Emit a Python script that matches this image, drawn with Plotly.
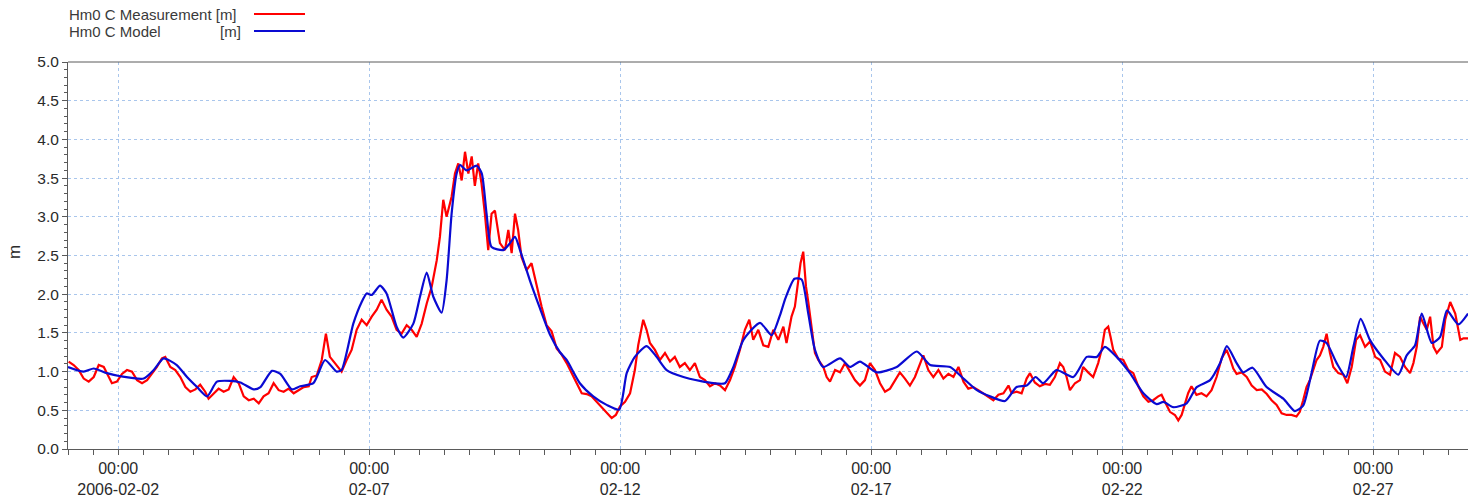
import datetime as dt
import plotly.graph_objects as go

BASE = dt.datetime(2006, 2, 1, 0, 0)

# Measurement (hours since 2006-02-01 00:00, Hm0 in m)
meas_hours = [0.3, 2.7, 5.1, 7.5, 9.9, 12.3, 14.7, 17.1, 18.6, 21, 23.4, 25.8, 28.2, 30.6, 33, 35.4, 37.8,
              40.2, 42.5, 44.9, 46.5, 48.9, 51.3, 53.7, 56.1, 58.5, 60.9, 63.2, 65.6, 67.2, 69.6, 72, 74.4,
              76.8, 79.2, 81.6, 84, 86.4, 88.8, 91.2, 93.5, 95.9, 98.3, 100.7, 103.1, 105.5, 107.9, 110.3,
              112.7, 115.1, 116.5, 118.9, 121.3, 123.3, 125.2, 127.6, 130.8, 133.2, 135.6, 138, 140.4, 142.8,
              145.2, 147.6, 149.9, 152.3, 154.7, 157.1, 159.5, 161.9, 164.3, 166.7, 169.1, 171.5, 173.9, 176.3,
              177.8, 179.4, 181, 183.4, 185, 186.6, 188.2, 189.8, 191.4, 193, 194.5, 196.1, 197.7, 199.3, 200.9,
              202.5, 204.1, 206.5, 208.9, 210.5, 212.1, 213.7, 215.2, 216.8, 219.2, 221.6, 224, 226.4, 228.8,
              231.2, 233.6, 236, 238.4, 240.8, 243.2, 245.6, 248, 250.3, 252.7, 255.1, 257.5, 259.9, 261.9,
              263.9, 266.3, 268.7, 271, 272.6, 275, 276.6, 278.2, 280.6, 283, 285.4, 287.8, 290.1, 292.5, 294.9,
              297.3, 299.7, 302.1, 304.5, 306.9, 309.3, 311.7, 314.1, 316.5, 318.8, 321.2, 323.6, 325.7, 327.6,
              330, 332.4, 334.8, 337.2, 339.6, 342, 343.5, 345.9, 347.5, 349.1, 350.2, 351.5, 352.8, 353.9, 355.5,
              357.1, 358.7, 361.1, 362.7, 364.3, 366.7, 369.1, 371.5, 373.9, 376.2, 378.6, 381, 383.4, 385.8,
              388.2, 390.6, 393, 395.4, 397.7, 400.1, 402.5, 404.9, 407.3, 408.9, 411.3, 413.7, 416.1, 418.5,
              420.9, 423.3, 425.7, 428.1, 430.4, 432.8, 435.2, 437.6, 440, 442.4, 444.8, 447.2, 449.6, 451.1,
              453.5, 455.9, 458.3, 459.9, 462.2, 464.6, 467, 469.4, 471.8, 474.2, 475.8, 477.4, 479, 481.4,
              483.8, 485.3, 487.7, 490.1, 492.5, 494.1, 495.7, 497.3, 498.4, 499.7, 502.1, 504.5, 506.9, 509.3,
              511.7, 514.1, 516.5, 518.8, 521.2, 522.8, 524.4, 526.8, 529.2, 530.8, 532.4, 534, 535.5, 537.1,
              539.5, 541.9, 544.3, 546.7, 549.1, 551.5, 553.9, 555.5, 557.1, 558.7, 561.1, 563.5, 565.9, 568.3,
              570.7, 573.1, 575.4, 577.8, 580.2, 582.6, 584.9, 587.3, 588.9, 590.5, 592.1, 593.7, 595.3, 596.9,
              598.5, 600.1, 601.7, 603.3, 604.9, 607.3, 609.7, 611.6, 613.7, 615.8, 617.7, 620.1, 622.5, 624.9,
              627.3, 629.6, 632, 634.4, 636.8, 639.2, 641.6, 643.2, 644.8, 646.4, 648, 649.6, 651.2, 652.8,
              654.4, 656.8, 658.4, 660.8, 663.2, 665.6, 667.2, 669.3]
meas_values = [1.13, 1.085, 1.02, 0.91, 0.87, 0.93, 1.085, 1.06, 0.98, 0.85, 0.87, 0.97, 1.02, 1.0, 0.89, 0.85, 0.89,
               0.98, 1.06, 1.17, 1.19, 1.06, 1.02, 0.93, 0.80, 0.74, 0.77, 0.83, 0.74, 0.65, 0.72, 0.78, 0.74,
               0.77, 0.93, 0.85, 0.68, 0.63, 0.65, 0.59, 0.68, 0.72, 0.85, 0.76, 0.74, 0.78, 0.72, 0.76,
               0.80, 0.81, 0.93, 0.95, 1.15, 1.49, 1.19, 1.11, 1.0, 1.15, 1.28, 1.54, 1.67, 1.60,
               1.71, 1.80, 1.93, 1.80, 1.71, 1.54, 1.49, 1.60, 1.54, 1.45, 1.62, 1.88, 2.10, 2.44,
               2.74, 3.22, 3.0, 3.26, 3.56, 3.69, 3.47, 3.84, 3.56, 3.78, 3.40, 3.69, 3.43, 3.04, 2.57,
               3.04, 3.08, 2.66, 2.57, 2.83, 2.53, 3.04, 2.83, 2.48, 2.31, 2.40, 2.10, 1.84, 1.60,
               1.52, 1.30, 1.22, 1.11, 0.99, 0.85, 0.72, 0.71, 0.68, 0.61, 0.53, 0.46, 0.40, 0.44,
               0.55, 0.61, 0.72, 1.02, 1.34, 1.67, 1.54, 1.37, 1.28, 1.15, 1.24, 1.13, 1.19, 1.06, 1.11,
               1.02, 1.11, 0.93, 0.89, 0.81, 0.85, 0.82, 0.76, 0.89, 1.06, 1.28, 1.54, 1.67, 1.41,
               1.54, 1.34, 1.32, 1.54, 1.41, 1.58, 1.37, 1.71, 1.84, 2.14, 2.40, 2.55, 2.10, 1.90, 1.58,
               1.24, 1.15, 1.06, 0.93, 0.87, 1.02, 0.99, 1.11, 0.99, 0.89, 0.82, 0.89, 1.11, 1.02,
               0.85, 0.74, 0.78, 0.89, 0.99, 0.91, 0.82, 0.93, 1.11, 1.21, 1.02, 0.93, 1.02, 0.91,
               0.97, 0.93, 1.06, 0.87, 0.78, 0.80, 0.76, 0.72, 0.68, 0.63, 0.70, 0.72, 0.82, 0.72,
               0.74, 0.72, 0.91, 0.98, 0.86, 0.81, 0.84, 0.83, 0.93, 1.11, 1.06, 0.93, 0.76, 0.85,
               0.89, 1.06, 0.99, 0.93, 1.11, 1.28, 1.54, 1.58, 1.45, 1.28, 1.17, 1.15, 1.02, 0.98,
               0.81, 0.68, 0.61, 0.63, 0.68, 0.70, 0.61, 0.48, 0.44, 0.37, 0.44, 0.59, 0.72, 0.81,
               0.70, 0.72, 0.68, 0.76, 0.93, 1.17, 1.28, 1.17, 1.04, 0.97, 0.99, 0.93, 0.82, 0.76,
               0.77, 0.71, 0.63, 0.57, 0.46, 0.44, 0.44, 0.42, 0.48, 0.63, 0.80, 0.89, 1.02, 1.15,
               1.21, 1.32, 1.49, 1.24, 1.06, 0.98, 0.96, 0.85, 1.06, 1.41, 1.47, 1.32, 1.39, 1.19,
               1.15, 1.0, 0.96, 1.24, 1.19, 1.06, 0.98, 1.11, 1.32, 1.71, 1.62, 1.54, 1.71, 1.32,
               1.24, 1.32, 1.67, 1.90, 1.75, 1.41, 1.43, 1.43]

# Model (hours since 2006-02-01 00:00, Hm0 in m)
model_hours = [0, 7.5, 12.3, 18.6, 25, 36.2, 41, 45.7, 52, 56.9, 61.7, 66.5, 71.2, 77.6, 82.4, 88.8, 92, 97.5,
               101.5, 107, 111, 117.3, 122.9, 128.4, 130.8, 136.4, 140.4, 142.8, 145.2, 149.2, 152.3, 157.1,
               160.3, 165.1, 168.3, 171.5, 174.6, 178.6, 181, 183.4, 185.8, 187.4, 190.6, 195.4, 197.8, 200.1,
               202.5, 208.1, 211.3, 213.7, 216.1, 220.8, 225.6, 230.4, 235.2, 238.4, 244.7, 251.1, 257.5, 263.5,
               267.1, 271, 276.6, 281.4, 286.2, 294.2, 302.1, 308.5, 314.1, 318.1, 322.9, 330.8, 336.4, 340.4,
               343, 347.3, 350.7, 353.9, 357.1, 361.1, 369.1, 373.9, 378.6, 386.6, 396.2, 405.8, 412.2, 421.7,
               428.1, 434.5, 440.8, 448, 453.5, 458.3, 462.6, 466.2, 472.6, 480.6, 487, 491.8, 495.7, 501.3,
               507.7, 514.1, 520.5, 523.7, 528.4, 534.8, 539.6, 546, 550.8, 554, 558.7, 561.8, 566.3, 573, 581,
               586.5, 590.5, 594.5, 598.5, 601.7, 606.5, 611, 614.5, 618, 622.4, 628.8, 636, 640, 644, 647.2,
               652, 656, 659.2, 664.7, 669.3]
model_values = [1.06, 1.0, 1.04, 0.98, 0.94, 0.91, 1.02, 1.17, 1.085, 0.93, 0.80, 0.68, 0.87, 0.88, 0.86, 0.77, 0.80, 1.01,
                0.97, 0.77, 0.81, 0.85, 1.15, 1.0, 1.02, 1.62, 1.90, 2.01, 1.99, 2.11, 2.01, 1.58,
                1.44, 1.62, 1.97, 2.28, 1.97, 1.76, 2.18, 3.04, 3.56, 3.67, 3.60, 3.66, 3.56, 3.04,
                2.61, 2.57, 2.66, 2.74, 2.57, 2.18, 1.82, 1.48, 1.25, 1.15, 0.85, 0.68, 0.57, 0.51,
                0.98, 1.19, 1.33, 1.19, 1.02, 0.93, 0.88, 0.85, 0.85, 1.06, 1.41, 1.63, 1.47, 1.73,
                1.95, 2.20, 2.19, 1.75, 1.28, 1.06, 1.17, 1.06, 1.13, 0.99, 1.06, 1.26, 1.085, 1.06,
                0.91, 0.76, 0.68, 0.62, 0.80, 0.82, 0.93, 0.85, 1.02, 0.93, 1.19, 1.19, 1.32, 1.19,
                0.98, 0.72, 0.58, 0.61, 0.54, 0.59, 0.80, 0.89, 1.11, 1.33, 1.11, 0.99, 1.05, 0.80, 0.65,
                0.49, 0.56, 0.98, 1.40, 1.37, 1.11, 0.93, 1.32, 1.68, 1.41, 1.17, 0.96, 1.21, 1.34, 1.75,
                1.37, 1.45, 1.79, 1.61, 1.75]

# Axis ticks
x_tick_dates = ["2006-02-02", "2006-02-07", "2006-02-12", "2006-02-17", "2006-02-22", "2006-02-27"]
x_tick_text = ["00:00<br>2006-02-02", "00:00<br>02-07", "00:00<br>02-12", "00:00<br>02-17",
               "00:00<br>02-22", "00:00<br>02-27"]
y_ticks = [0.0, 0.5, 1.0, 1.5, 2.0, 2.5, 3.0, 3.5, 4.0, 4.5, 5.0]
x_end_hours = 669.3

meas_x = [BASE + dt.timedelta(hours=h) for h in meas_hours]
model_x = [BASE + dt.timedelta(hours=h) for h in model_hours]

RED = "#ff0000"
BLUE = "#0a0ad2"
AXIS = "#5a5a5a"
GRID = "#a9c6ec"
FONT = "Liberation Sans, Arial, sans-serif"

fig = go.Figure()
fig.add_trace(go.Scatter(x=meas_x, y=meas_values, mode="lines", name="Hm0 C Measurement [m]",
                         line=dict(color=RED, width=2.2)))
fig.add_trace(go.Scatter(x=model_x, y=model_values, mode="lines", name="Hm0 C Model [m]",
                         line=dict(color=BLUE, width=2.2, shape="spline", smoothing=0.6)))

L, T, B = 68, 62, 49
W, H = 1468, 498
pw, ph = W - L, H - T - B

def px(xp):
    return (xp - L) / pw

def py(yp):
    return (H - B - yp) / ph

fig.update_layout(
    width=W, height=H,
    margin=dict(l=L, r=0, t=T, b=B, pad=0),
    paper_bgcolor="white", plot_bgcolor="white",
    showlegend=False,
    font=dict(family=FONT, color="#2a2a2a"),
    xaxis=dict(
        type="date",
        range=[BASE, BASE + dt.timedelta(hours=x_end_hours)],
        tickmode="array", tickvals=x_tick_dates, ticktext=x_tick_text,
        ticks="outside", ticklen=5, tickcolor=AXIS,
        showline=True, linecolor=AXIS, linewidth=1,
        showgrid=True, gridcolor=GRID, griddash="dot", gridwidth=1,
        zeroline=False,
        tickfont=dict(size=16, color="#2a2a2a"),
        minor=dict(dtick=12 * 3600 * 1000, tick0="2006-02-01", ticks="outside", ticklen=5,
                   tickcolor=AXIS, showgrid=False),
    ),
    yaxis=dict(
        range=[0, 5],
        tickmode="array", tickvals=y_ticks, tickformat=".1f",
        ticks="outside", ticklen=5, tickcolor=AXIS,
        showline=True, linecolor=AXIS, linewidth=1,
        showgrid=True, gridcolor=GRID, griddash="dot", gridwidth=1,
        zeroline=False,
        tickfont=dict(size=15.5, color="#2a2a2a"),
        minor=dict(dtick=0.1, ticks="outside", ticklen=3, tickcolor=AXIS, showgrid=False),
    ),
)

# top frame line
fig.add_shape(type="line", xref="paper", yref="paper", x0=0, x1=1, y0=1, y1=1,
              line=dict(color=AXIS, width=1))

# y axis title
fig.add_annotation(text="m", xref="paper", yref="paper", x=px(15), y=py(252), showarrow=False,
                   textangle=-90, font=dict(size=17, color="#2a2a2a"), xanchor="center", yanchor="middle")

# legend (text left, line sample right)
leg_font = dict(size=15, color="#3a3a3a", family=FONT)
fig.add_annotation(text="Hm0 C Measurement [m]", xref="paper", yref="paper", x=px(67), y=py(14),
                   showarrow=False, xanchor="left", yanchor="middle", font=leg_font)
fig.add_annotation(text="Hm0 C Model", xref="paper", yref="paper", x=px(67), y=py(31),
                   showarrow=False, xanchor="left", yanchor="middle", font=leg_font)
fig.add_annotation(text="[m]", xref="paper", yref="paper", x=px(243), y=py(31),
                   showarrow=False, xanchor="right", yanchor="middle", font=leg_font)
fig.add_shape(type="line", xref="paper", yref="paper", x0=px(254), x1=px(305), y0=py(14), y1=py(14),
              line=dict(color=RED, width=2))
fig.add_shape(type="line", xref="paper", yref="paper", x0=px(254), x1=px(305), y0=py(31), y1=py(31),
              line=dict(color=BLUE, width=2))

fig.write_html("out.html")
